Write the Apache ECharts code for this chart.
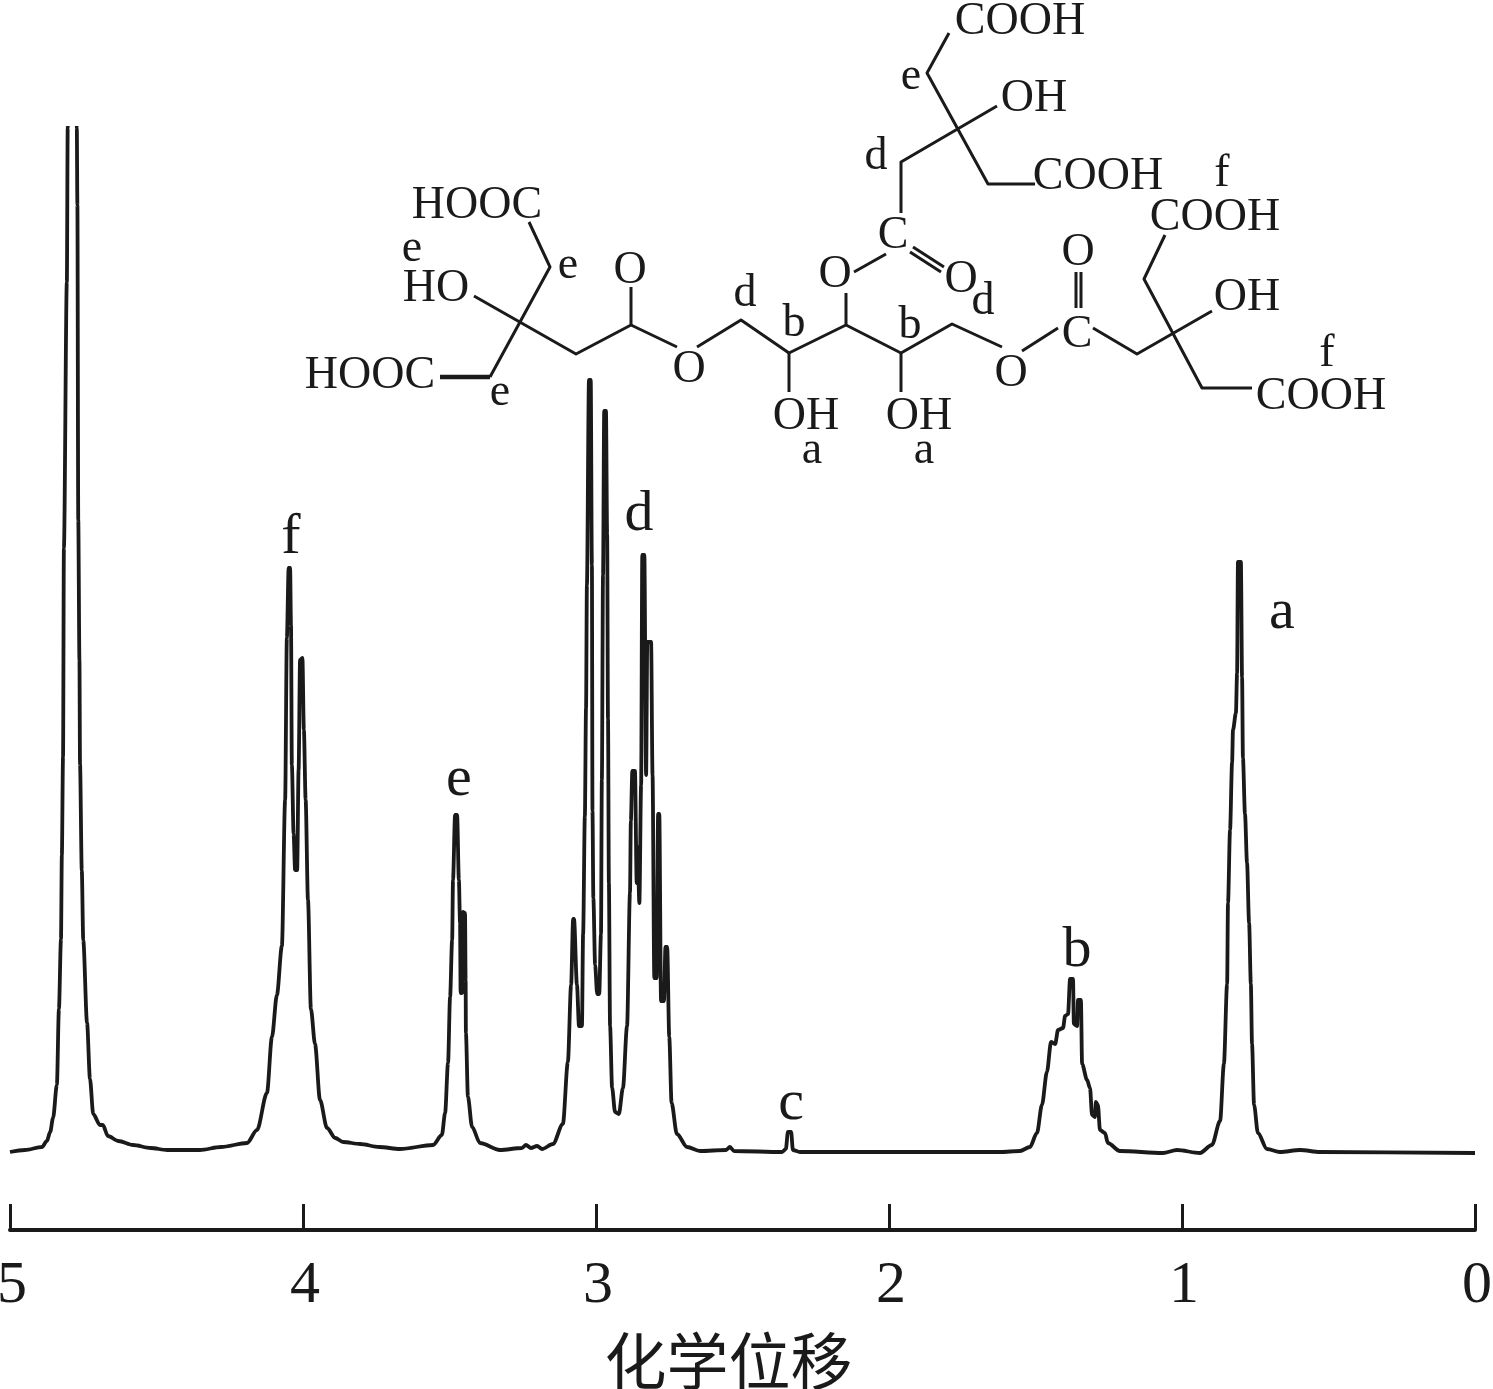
<!DOCTYPE html>
<html><head><meta charset="utf-8">
<script src="https://cdn.jsdelivr.net/npm/echarts@6/dist/echarts.min.js"></script>
<style>html,body{margin:0;padding:0;background:#fff}#c{width:1493px;height:1389px}</style>
</head><body><div id="c"></div>
<script>
// [chemical shift ppm, intensity]
const solventPeak = [[5,1],[4.949,3],[4.891,6],[4.874,12],[4.863,21],[4.853,35],[4.84,68],[4.833,144],[4.826,214],[4.823,298],[4.819,396],[4.816,605],[4.806,871],[4.803,1025],[4.8,1093],[4.788,1123],[4.775,1093],[4.772,1025],[4.77,948],[4.767,633],[4.763,493],[4.761,389],[4.755,283],[4.75,213],[4.737,130],[4.727,74],[4.716,39],[4.693,28],[4.683,28],[4.666,17],[4.63,12],[4.58,8],[4.52,5],[4.464,3],[4.352,3],[4.28,6],[4.191,10]];
const peakF = [[4.157,23],[4.123,60],[4.106,116],[4.089,158],[4.072,207],[4.061,353],[4.055,515],[4.049,585],[4.044,585],[4.041,528],[4.038,388],[4.032,319],[4.027,283],[4.02,283],[4.015,383],[4.01,493],[4.002,495],[3.997,423],[3.991,353],[3.983,253],[3.973,144],[3.959,109],[3.942,53],[3.918,25],[3.89,15],[3.863,11],[3.805,9],[3.74,6],[3.669,4]];
const peakE = [[3.556,8],[3.526,18],[3.515,40],[3.505,90],[3.498,156],[3.491,213],[3.488,273],[3.481,338],[3.474,338],[3.468,273],[3.464,230],[3.462,160],[3.457,160],[3.454,241],[3.447,240],[3.445,173],[3.444,120],[3.437,56],[3.423,26],[3.396,10],[3.328,3],[3.253,5],[3.239,8],[3.222,5],[3.201,7],[3.184,4]];
const peakD = [[3.147,9],[3.113,29],[3.096,91],[3.085,168],[3.078,234],[3.075,234],[3.065,168],[3.058,127],[3.048,127],[3.044,219],[3.038,337],[3.034,445],[3.031,568],[3.024,773],[3.018,773],[3.014,588],[3.012,342],[3.009,255],[3.003,188],[2.996,159],[2.989,159],[2.983,219],[2.98,373],[2.976,578],[2.972,742],[2.966,742],[2.962,619],[2.959,434],[2.956,270],[2.952,127],[2.945,65],[2.935,41],[2.922,39],[2.908,65],[2.894,127],[2.884,260],[2.881,332],[2.876,382],[2.867,382],[2.861,270],[2.858,306],[2.852,250],[2.846,368],[2.842,598],[2.835,598],[2.829,378],[2.825,511],[2.812,511],[2.807,378],[2.801,175],[2.793,175],[2.788,339],[2.784,339],[2.778,152],[2.768,152],[2.763,206],[2.757,206],[2.75,116],[2.742,50],[2.724,19],[2.689,6],[2.645,2],[2.556,3],[2.543,6],[2.529,2],[2.365,1]];
const peakC = [[2.352,4],[2.345,21],[2.334,21],[2.328,3],[2.304,1],[1.621,1]];
const peakB = [[1.553,2],[1.519,6],[1.495,20],[1.478,48],[1.461,81],[1.447,111],[1.433,109],[1.423,123],[1.406,125],[1.399,137],[1.389,139],[1.382,174],[1.372,174],[1.369,129],[1.358,127],[1.355,153],[1.345,153],[1.341,89],[1.324,73],[1.314,65],[1.307,38],[1.297,36],[1.294,51],[1.287,48],[1.28,23],[1.263,20],[1.253,10],[1.212,2],[1.065,0],[1.017,3],[0.939,0]];
const peakA = [[0.898,8],[0.87,32],[0.857,89],[0.846,169],[0.843,250],[0.836,323],[0.829,391],[0.826,423],[0.816,440],[0.812,480],[0.809,591],[0.799,591],[0.795,476],[0.792,395],[0.785,339],[0.778,290],[0.771,230],[0.765,169],[0.761,109],[0.754,48],[0.741,20],[0.71,4],[0.666,1],[0.597,3],[0.529,1],[0,0]];
const peakLabels = [['f',4.041,615],['e',3.468,373],['d',2.853,638],['c',2.334,49],['b',1.358,202],['a',0.659,540]];
const axisName = '化学位移';

// Annotation: structural formula
const bonds = [
 [[529,222],[550,267],[490,377]],
 [[474,296],[576,354],[631,325],[677,347]],
 [[631,325],[631,287]],
 [[697,347],[741,320],[789,353],[846,325],[901,353],[952,324],[1002,347]],
 [[789,353],[789,392]],[[846,325],[846,293]],[[901,353],[901,392]],
 [[1022,351],[1058,328]],[[1076,272],[1076,308]],[[1081,272],[1081,308]],
 [[1093,328],[1137,354],[1212,311]],
 [[1165,235],[1144,279],[1202,388],[1252,388]],
 [[949,33],[927,73],[988,184],[1035,184]],
 [[997,106],[901,162],[901,213]],
 [[886,254],[854,272]],[[913,247],[944,267]],[[910,252],[941,272]]
];
const boldBond = [[440,377],[490,377]];
const atoms = [
 ['COOH',1020,22],['OH',1034,99],['e',911,77],['d',876,157],['COOH',1098,177],['f',1222,174],['COOH',1215,218],
 ['C',893,236],['O',961,280],['d',983,302],['O',835,275],['O',1078,253],['OH',1247,298],['C',1077,335],['b',910,326],
 ['O',1011,374],['f',1327,354],['COOH',1321,397],['OH',919,417],['a',924,451],
 ['HOOC',477,206],['e',412,249],['e',568,266],['O',630,271],['HO',436,289],['d',745,294],['b',794,324],
 ['HOOC',370,376],['e',500,393],['O',689,370],['OH',806,417],['a',812,451]
];

const ink = '#1a1a1a';
const serif = '"Liberation Serif","Times New Roman",serif';
const spectrum = [].concat(solventPeak, peakF, peakE, peakD, peakC, peakB, peakA);

const graphic = [];
bonds.forEach(b => graphic.push({type:'polyline',shape:{points:b},style:{stroke:ink,lineWidth:3,fill:null,lineJoin:'round'},silent:true}));
graphic.push({type:'polyline',shape:{points:boldBond},style:{stroke:ink,lineWidth:4.5,fill:null},silent:true});
atoms.forEach(a => graphic.push({type:'text',x:a[1],y:a[2],silent:true,style:{text:a[0],fill:ink,font:'46px '+serif,textAlign:'center',textVerticalAlign:'middle',align:'center',verticalAlign:'middle'}}));

const chart = echarts.init(document.getElementById('c'),null,{renderer:'canvas'});
chart.setOption({
 animation:false,
 backgroundColor:'#fff',
 grid:{left:10,right:18,top:128,bottom:159,containLabel:false,outerBoundsMode:'none'},
 xAxis:{type:'value',inverse:true,min:0,max:5,interval:1,position:'bottom',
  name:axisName,nameLocation:'middle',nameGap:100,
  nameTextStyle:{fontFamily:'"Noto Sans CJK SC"',fontSize:62,color:ink,fontWeight:'normal',padding:[0,28,0,0]},
  axisLine:{show:true,onZero:false,lineStyle:{color:ink,width:4}},
  axisTick:{show:true,inside:true,length:26,lineStyle:{color:ink,width:3}},
  axisLabel:{show:true,margin:26,padding:[0,0,0,4],fontFamily:serif,fontSize:60,color:ink,showMinLabel:true,showMaxLabel:true,hideOverlap:false},
  splitLine:{show:false}},
 yAxis:{type:'value',show:false,min:-77,max:1025,splitLine:{show:false}},
 series:[{type:'line',data:spectrum,showSymbol:false,symbol:'none',smooth:0.3,smoothMonotone:'x',clip:true,
  lineStyle:{color:ink,width:3.8,join:'round'},
  markPoint:{silent:true,symbol:'circle',symbolSize:0,
   label:{show:true,position:'inside',fontFamily:serif,fontSize:58,color:ink,formatter:p=>p.name},
   data:peakLabels.map(l=>({name:l[0],coord:[l[1],l[2]]}))}}],
 graphic:graphic
});
</script></body></html>
